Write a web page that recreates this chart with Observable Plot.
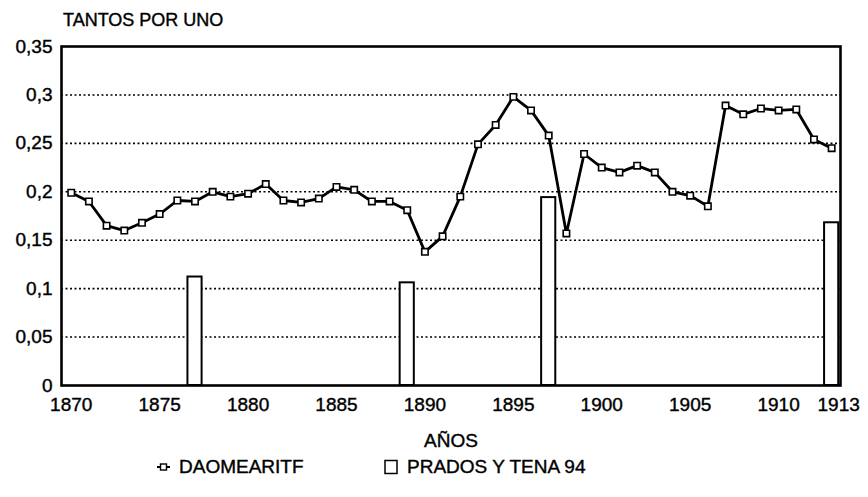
<!DOCTYPE html>
<html>
<head>
<meta charset="utf-8">
<script src="https://cdn.jsdelivr.net/npm/d3@7"></script>
<script src="https://cdn.jsdelivr.net/npm/@observablehq/plot@0.6"></script>
<style>
  html, body { margin: 0; padding: 0; background: #fff; }
  body { width: 868px; height: 497px; position: relative; overflow: hidden; font-family: "Liberation Sans", Arial, sans-serif; color: #000; }
  #title { position: absolute; left: 63px; top: 9px; font-size: 18px; line-height: 22px; -webkit-text-stroke: 0.4px #000; }
  #chart { position: absolute; left: 0; top: 30px; }
  #chart svg text { stroke: #000; stroke-width: 0.4px; }
  #legend { position: absolute; left: 0; top: 455px; width: 868px; height: 24px; font-size: 19px; line-height: 24px; -webkit-text-stroke: 0.4px #000; }
  .item { position: absolute; top: 0; display: flex; align-items: center; }
  .item svg { margin-right: 8px; }
</style>
</head>
<body>
<div id="title">TANTOS POR UNO</div>
<div id="chart"></div>
<div id="legend">
  <div class="item" style="left:156px"><svg width="15" height="12"><line x1="1" y1="6" x2="14" y2="6" stroke="#000" stroke-width="2"/><rect x="4.5" y="3" width="6" height="6" fill="#fff" stroke="#000" stroke-width="1.4"/></svg><span id="leg1"></span></div>
  <div class="item" style="left:384px"><svg width="15" height="16"><rect x="1" y="1.5" width="12" height="13" fill="#fff" stroke="#000" stroke-width="1.5"/></svg><span id="leg2"></span></div>
</div>
<script>
// ---- data ----
const years = [1870,1871,1872,1873,1874,1875,1876,1877,1878,1879,
               1880,1881,1882,1883,1884,1885,1886,1887,1888,1889,
               1890,1891,1892,1893,1894,1895,1896,1897,1898,1899,
               1900,1901,1902,1903,1904,1905,1906,1907,1908,1909,
               1910,1911,1912,1913];
const daomearitf = [0.199,0.190,0.165,0.160,0.168,0.177,0.191,0.190,0.200,0.195,
                    0.198,0.208,0.191,0.189,0.193,0.205,0.202,0.190,0.190,0.181,
                    0.138,0.154,0.195,0.249,0.269,0.298,0.284,0.258,0.157,0.239,
                    0.225,0.220,0.227,0.220,0.200,0.196,0.185,0.289,0.280,0.286,
                    0.284,0.285,0.254,0.245];
const pradosYears = [1877, 1889, 1897, 1913];
const pradosValues = [0.112, 0.106, 0.194, 0.168];
const seriesNames = ["DAOMEARITF", "PRADOS Y TENA 94"];
const xTickValues = [1870,1875,1880,1885,1890,1895,1900,1905,1910];
const xLastTick = [1913];
const yTickValues = [0,0.05,0.1,0.15,0.2,0.25,0.3,0.35];
const yGridValues = [0.05,0.1,0.15,0.2,0.25,0.3];
const yLabel = "TANTOS POR UNO";
const xLabel = "AÑOS";

// ---- tables ----
const lineData = years.map((y, i) => ({year: y, value: daomearitf[i]}));
const barData = pradosYears.map((y, i) => ({year: y, value: pradosValues[i]}));
const halfBar = 0.4;

document.getElementById("title").textContent = yLabel;
document.getElementById("leg1").textContent = seriesNames[0];
document.getElementById("leg2").textContent = seriesNames[1];

const fmt = d => d === 0 ? "0" : String(+d.toFixed(2)).replace(".", ",");

const chart = Plot.plot({
  width: 868,
  height: 425,
  marginLeft: 61,
  marginRight: 28,
  marginTop: 16,
  marginBottom: 70,
  style: {fontFamily: "Liberation Sans, Arial, sans-serif", fontSize: "19px", color: "#000", background: "#fff"},
  x: {domain: [1869.45, 1913.5]},
  y: {domain: [0, 0.35]},
  marks: [
    Plot.ruleY(yGridValues, {stroke: "#000", strokeWidth: 1.6, strokeDasharray: "2,2.5"}),
    Plot.rectY(barData, {x1: d => d.year - halfBar, x2: d => d.year + halfBar, y1: 0, y2: "value", fill: "#fff", stroke: "#000", strokeWidth: 2}),
    Plot.line(lineData, {x: "year", y: "value", stroke: "#000", strokeWidth: 2.8}),
    Plot.dot(lineData, {x: "year", y: "value", symbol: "square", r: 3.6, fill: "#fff", stroke: "#000", strokeWidth: 1.6}),
    Plot.frame({stroke: "#000", strokeWidth: 2.6}),
    Plot.axisY({ticks: yTickValues, tickFormat: fmt, tickSize: 0, tickPadding: 9, label: null}),
    Plot.axisX({ticks: xTickValues, tickFormat: d => String(d), tickSize: 0, tickPadding: 12, label: xLabel, labelAnchor: "center", labelArrow: "none", labelOffset: 61}),
    Plot.axisX({ticks: xLastTick, tickFormat: d => String(d), tickSize: 0, tickPadding: 12, dx: 7, label: null})
  ]
});
document.getElementById("chart").appendChild(chart);
</script>
</body>
</html>
